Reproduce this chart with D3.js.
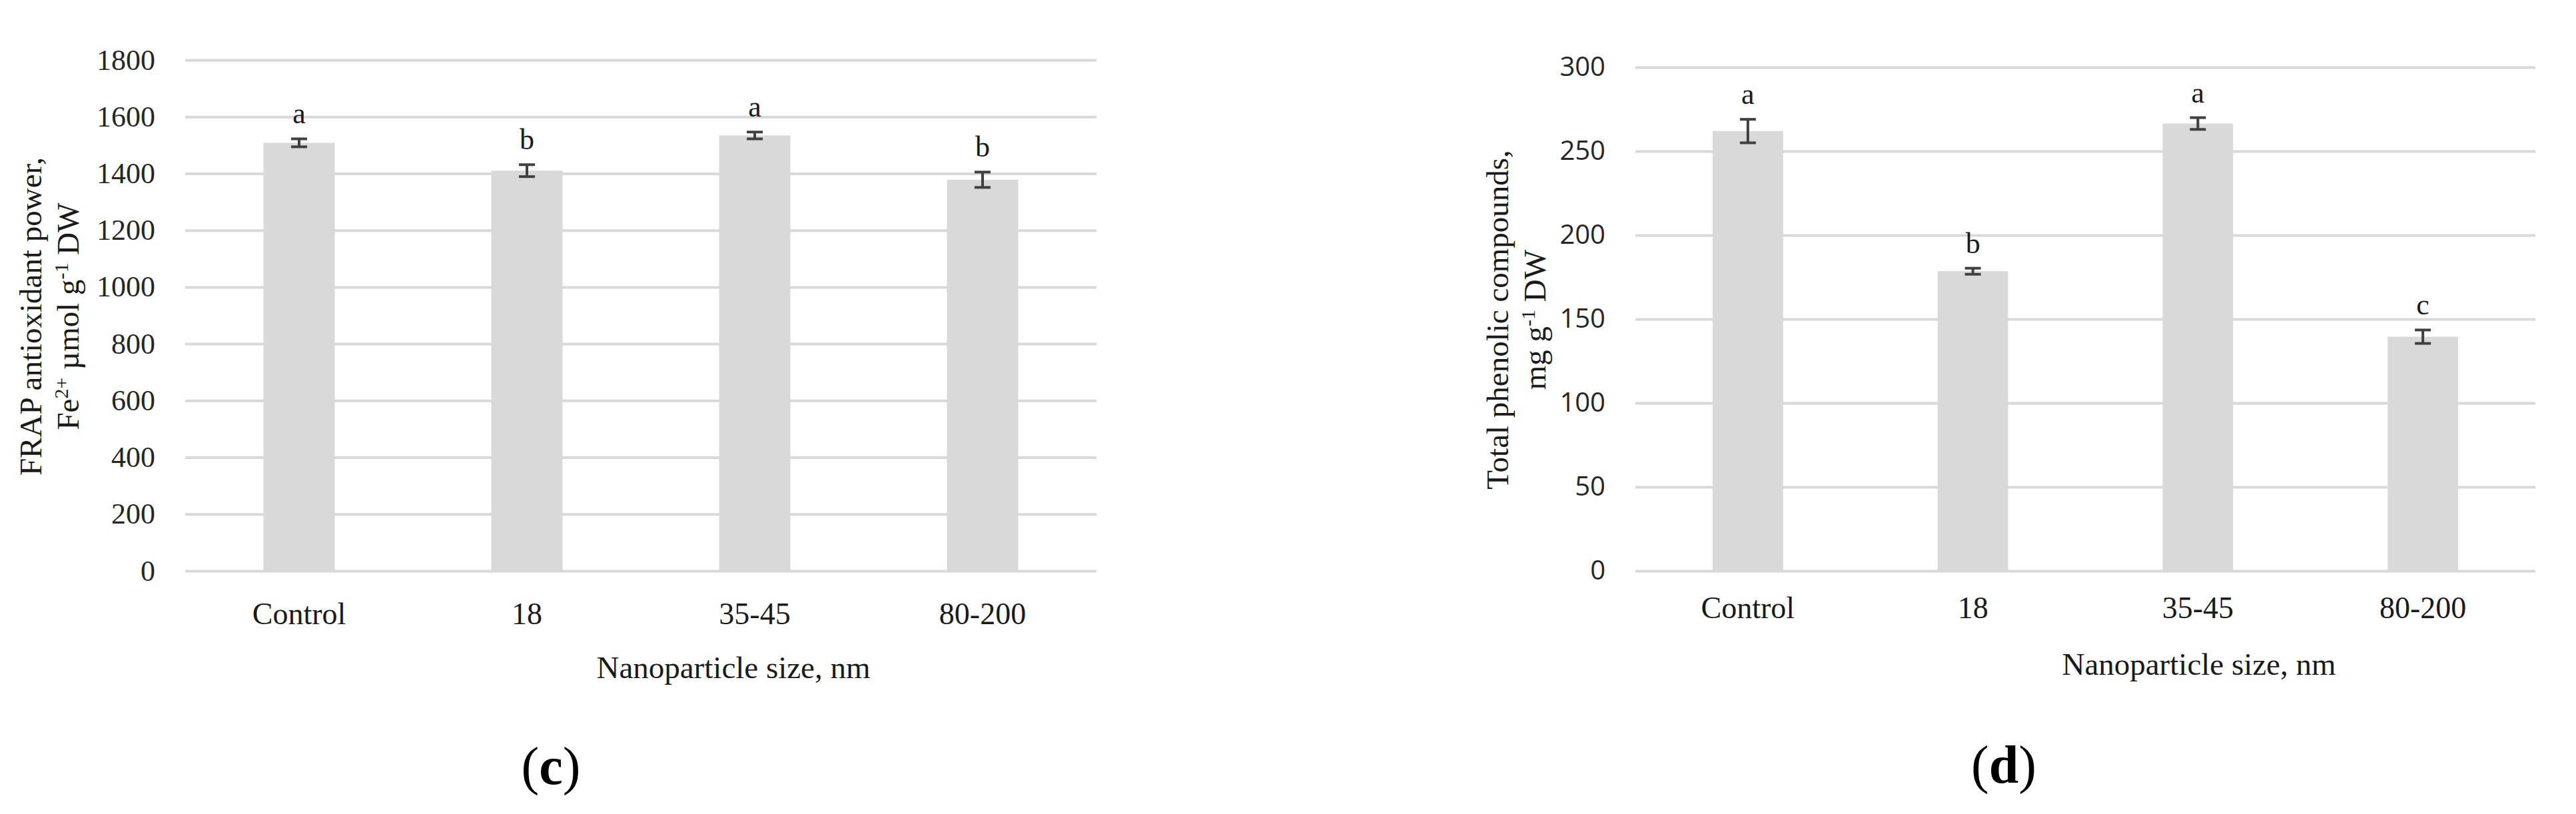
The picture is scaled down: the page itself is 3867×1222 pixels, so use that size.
<!DOCTYPE html>
<html>
<head>
<meta charset="utf-8">
<script src="https://cdnjs.cloudflare.com/ajax/libs/d3/7.8.5/d3.min.js"></script>
<style>
  body { margin: 0; background: #ffffff; }
  svg { display: block; }
</style>
</head>
<body>
<div id="chartContainer"></div>
<script>
// Categories shared by both panels
const categories = ["Control", "18", "35-45", "80-200"];

// Panel (c): FRAP antioxidant power
const frapValues = [1508, 1410, 1534, 1378];
const frapErrors = [14, 21, 12, 27];
const frapLetters = ["a", "b", "a", "b"];
const frapTicks = [0, 200, 400, 600, 800, 1000, 1200, 1400, 1600, 1800];

// Panel (d): total phenolic compounds
const tpcValues = [262, 178.5, 266.5, 139.5];
const tpcErrors = [7, 1.8, 3.5, 4];
const tpcLetters = ["a", "b", "a", "c"];
const tpcTicks = [0, 50, 100, 150, 200, 250, 300];

const svgWidth = 3867;
const svgHeight = 1222;
const serif = "'Palatino Linotype', 'Book Antiqua', 'Liberation Serif', serif";
const sans = "'Open Sans', 'DejaVu Sans', sans-serif";

const svg = d3.select("#chartContainer")
    .append("svg")
    .attr("width", svgWidth)
    .attr("height", svgHeight);

// Draw one bar panel
function drawPanel(opts) {
    const g = svg.append("g");

    const x = d3.scaleBand()
        .domain(categories)
        .range([opts.x0, opts.x1])
        .paddingInner(0.687)
        .paddingOuter(0.3435);

    const y = d3.scaleLinear()
        .domain([0, opts.ticks[opts.ticks.length - 1]])
        .range([opts.yBottom, opts.yTop]);

    // y axis with gridlines
    const yAxis = g.append("g")
        .attr("transform", `translate(${opts.x0},0)`)
        .call(d3.axisLeft(y)
            .tickValues(opts.ticks)
            .tickSize(-(opts.x1 - opts.x0))
            .tickPadding(45)
            .tickFormat(d3.format("d")));
    yAxis.select(".domain").remove();
    yAxis.selectAll(".tick line")
        .attr("stroke", "#d9d9d9")
        .attr("stroke-width", 4);
    yAxis.selectAll(".tick text")
        .attr("fill", "#262626")
        .style("font-family", opts.tickFont)
        .style("font-size", opts.tickSize + "px");

    // bars
    g.selectAll(".bar")
        .data(opts.values)
        .enter()
        .append("rect")
        .attr("class", "bar")
        .attr("x", (d, i) => x(categories[i]))
        .attr("width", x.bandwidth())
        .attr("y", d => y(d))
        .attr("height", d => y(0) - y(d))
        .attr("fill", "#d9d9d9");

    // error bars
    const cap = 12;
    const err = g.selectAll(".err")
        .data(opts.values)
        .enter()
        .append("g")
        .attr("class", "err")
        .attr("stroke", "#404040")
        .attr("stroke-width", 4);
    err.append("line")
        .attr("x1", (d, i) => x(categories[i]) + x.bandwidth() / 2)
        .attr("x2", (d, i) => x(categories[i]) + x.bandwidth() / 2)
        .attr("y1", (d, i) => y(d - opts.errors[i]))
        .attr("y2", (d, i) => y(d + opts.errors[i]));
    err.append("line")
        .attr("x1", (d, i) => x(categories[i]) + x.bandwidth() / 2 - cap)
        .attr("x2", (d, i) => x(categories[i]) + x.bandwidth() / 2 + cap)
        .attr("y1", (d, i) => y(d + opts.errors[i]))
        .attr("y2", (d, i) => y(d + opts.errors[i]));
    err.append("line")
        .attr("x1", (d, i) => x(categories[i]) + x.bandwidth() / 2 - cap)
        .attr("x2", (d, i) => x(categories[i]) + x.bandwidth() / 2 + cap)
        .attr("y1", (d, i) => y(d - opts.errors[i]))
        .attr("y2", (d, i) => y(d - opts.errors[i]));

    // significance letters
    g.selectAll(".letter")
        .data(opts.values)
        .enter()
        .append("text")
        .attr("class", "letter")
        .attr("x", (d, i) => x(categories[i]) + x.bandwidth() / 2)
        .attr("y", (d, i) => y(d + opts.errors[i]) - 23)
        .attr("text-anchor", "middle")
        .style("font-family", serif)
        .style("font-size", "44px")
        .attr("fill", "#1a1a1a")
        .text((d, i) => opts.letters[i]);

    // x axis labels
    const xAxis = g.append("g")
        .attr("transform", `translate(0,${opts.yBottom})`)
        .call(d3.axisBottom(x).tickSize(0));
    xAxis.select(".domain").remove();
    xAxis.selectAll(".tick text")
        .attr("y", opts.xLabelOffset)
        .attr("dy", 0)
        .attr("fill", "#1a1a1a")
        .style("font-family", serif)
        .style("font-size", "46px");

    // x axis title
    g.append("text")
        .attr("x", opts.xTitleX)
        .attr("y", opts.xTitleY)
        .attr("text-anchor", "middle")
        .style("font-family", serif)
        .style("font-size", "47px")
        .attr("fill", "#1a1a1a")
        .text("Nanoparticle size, nm");

    // y axis title (two lines, rotated)
    const yt = g.append("text")
        .attr("transform", `translate(${opts.yTitleX},${opts.yTitleY}) rotate(-90)`)
        .attr("text-anchor", "middle")
        .style("font-family", serif)
        .style("font-size", "47px")
        .attr("fill", "#1a1a1a");
    opts.yTitleLines.forEach((parts, li) => {
        const line = yt.append("tspan")
            .attr("x", 0)
            .attr("y", li * 56);
        parts.forEach(p => {
            const t = line.append("tspan").text(p.t);
            if (p.sup) {
                t.attr("baseline-shift", "super").style("font-size", "30px");
            }
        });
    });

    // panel letter
    const pl = g.append("text")
        .attr("x", opts.panelX)
        .attr("y", opts.panelY)
        .attr("text-anchor", "middle")
        .style("font-family", serif)
        .style("font-size", "80px")
        .attr("fill", "#000");
    pl.append("tspan").text("(");
    pl.append("tspan").style("font-weight", "bold").text(opts.panel);
    pl.append("tspan").text(")");
}

drawPanel({
    x0: 278, x1: 1646, yBottom: 857, yTop: 90,
    values: frapValues, errors: frapErrors, letters: frapLetters, ticks: frapTicks,
    tickFont: serif, tickSize: 44,
    xLabelOffset: 80,
    xTitleX: 1101, xTitleY: 1018,
    yTitleX: 62, yTitleY: 475,
    yTitleLines: [
        [{ t: "FRAP antioxidant power," }],
        [{ t: "Fe" }, { t: "2+", sup: true }, { t: " µmol g" }, { t: "-1", sup: true }, { t: " DW" }]
    ],
    panel: "c", panelX: 827, panelY: 1177
});

drawPanel({
    x0: 2455, x1: 3806, yBottom: 857, yTop: 101,
    values: tpcValues, errors: tpcErrors, letters: tpcLetters, ticks: tpcTicks,
    tickFont: sans, tickSize: 40,
    xLabelOffset: 71,
    xTitleX: 3301, xTitleY: 1013,
    yTitleX: 2264, yTitleY: 480,
    yTitleLines: [
        [{ t: "Total phenolic compounds," }],
        [{ t: "mg g" }, { t: "-1", sup: true }, { t: " DW" }]
    ],
    panel: "d", panelX: 3008, panelY: 1175
});
</script>
</body>
</html>
